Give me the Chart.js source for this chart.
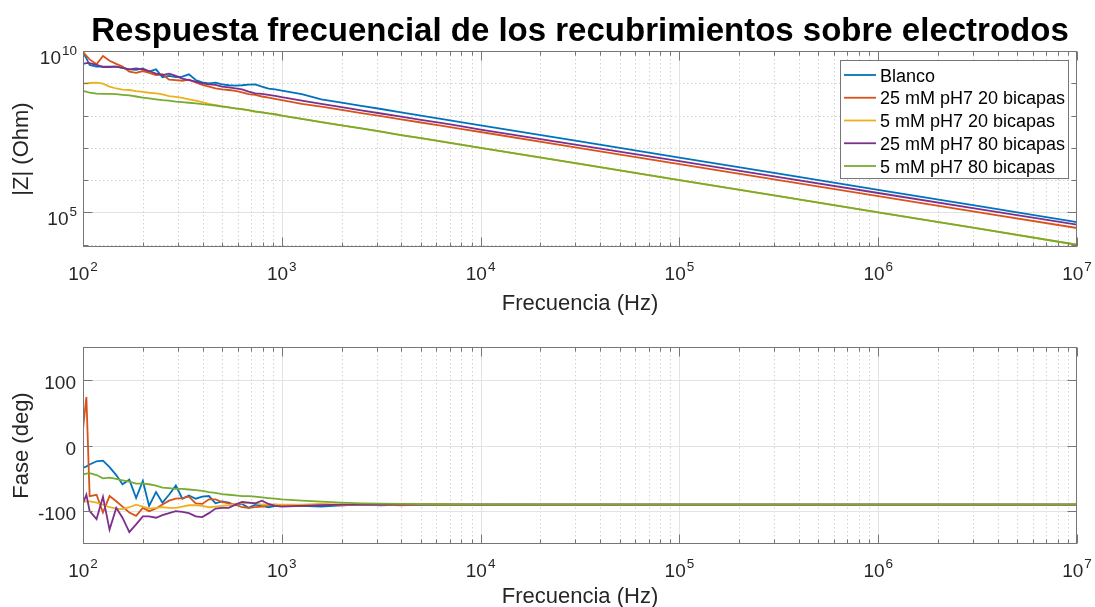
<!DOCTYPE html>
<html>
<head>
<meta charset="utf-8">
<script src="https://cdn.jsdelivr.net/npm/chart.js@4"></script>
<style>
  html, body { margin: 0; padding: 0; background: #ffffff; }
  #wrap { position: relative; width: 1095px; height: 607px; }
  #wrap canvas { position: absolute; left: 0; top: 0; }
</style>
</head>
<body>
<div id="wrap">
  <canvas id="mag" width="1095" height="607"></canvas>
  <canvas id="phase" width="1095" height="607"></canvas>
</div>
<script>
// ---- data -------------------------------------------------------------
const TITLE = 'Respuesta frecuencial de los recubrimientos sobre electrodos';
const X_LABEL = 'Frecuencia (Hz)';
const MAG_LABEL = '|Z| (Ohm)';
const PHASE_LABEL = 'Fase (deg)';

const SERIES_NAMES = ['Blanco', '25 mM pH7 20 bicapas', '5 mM pH7 20 bicapas', '25 mM pH7 80 bicapas', '5 mM pH7 80 bicapas'];
const SERIES_COLORS = ['#0072BD', '#D95319', '#EDB120', '#7E2F8E', '#77AC30'];

// frequency sweep (Hz)
const FREQ = [100, 104, 108, 117, 126, 136, 147, 158, 171, 185,
  200, 215, 233, 251, 271, 293, 316, 341, 369, 398,
  430, 464, 501, 541, 584, 631, 681, 736, 794, 858,
  926, 1000,
  1260, 1580, 2000, 2510, 3160, 3980, 5010, 6310, 7940, 1e4,
  3.16e4, 1e5, 3.16e5, 1e6, 3.16e6, 1e7];

// |Z| in ohm
const MAG_BLANCO = [8.9e9, 5.9e9, 3.7e9, 3.3e9, 3.3e9, 3.3e9, 3.3e9, 3.0e9, 2.7e9, 2.6e9,
  2.9e9, 2.3e9, 2.7e9, 1.55e9, 1.7e9, 1.55e9, 1.6e9, 1.9e9, 1.26e9, 1.07e9,
  1.0e9, 1.05e9, 9.3e8, 8.7e8, 8.5e8, 8.7e8, 9.1e8, 9.3e8, 7.9e8, 6.8e8,
  6.5e8, 5.9e8,
  4.6e8, 3.2e8, 2.5e8, 2.0e8, 1.6e8, 1.26e8, 1.0e8, 7.9e7, 6.3e7, 5.0e7,
  1.6e7, 5.0e6, 1.6e6, 5.0e5, 1.6e5, 5.0e4];
const MAG_25_20 = [9.5e9, 7.1e9, 5.5e9, 3.9e9, 7.0e9, 5.0e9, 4.0e9, 3.3e9, 2.3e9, 2.1e9,
  2.4e9, 2.1e9, 1.8e9, 1.9e9, 1.3e9, 1.26e9, 1.2e9, 1.3e9, 1.07e9, 8.9e8,
  7.9e8, 7.0e8, 6.5e8, 6.2e8, 5.8e8, 5.2e8, 4.6e8, 4.4e8, 3.9e8, 3.6e8,
  3.3e8, 3.0e8,
  2.3e8, 1.9e8, 1.51e8, 1.2e8, 9.6e7, 7.6e7, 6.1e7, 4.85e7, 3.9e7, 3.1e7,
  9.8e6, 3.15e6, 1.0e6, 3.2e5, 1.03e5, 3.3e4];
const MAG_5_20 = [1.0e9, 1.0e9, 1.02e9, 1.05e9, 9.8e8, 7.9e8, 6.9e8, 6.4e8, 6.2e8, 5.75e8,
  5.4e8, 5.1e8, 4.9e8, 4.5e8, 4.0e8, 3.8e8, 3.55e8, 3.2e8, 2.9e8, 2.6e8,
  2.3e8, 2.1e8, 1.95e8, 1.8e8, 1.66e8, 1.55e8, 1.46e8, 1.3e8, 1.26e8, 1.17e8,
  1.1e8, 1.0e8,
  7.9e7, 6.3e7, 5.0e7, 4.0e7, 3.2e7, 2.5e7, 2.0e7, 1.6e7, 1.26e7, 1.0e7,
  3.2e6, 1.0e6, 3.2e5, 1.0e5, 3.2e4, 1.0e4];
const MAG_25_80 = [4.0e9, 4.2e9, 4.2e9, 3.7e9, 3.2e9, 3.2e9, 3.3e9, 3.0e9, 2.7e9, 2.9e9,
  2.7e9, 2.4e9, 2.0e9, 1.8e9, 2.0e9, 1.7e9, 1.4e9, 1.26e9, 1.13e9, 1.0e9,
  9.3e8, 8.9e8, 7.9e8, 7.5e8, 7.0e8, 6.5e8, 5.5e8, 4.9e8, 4.7e8, 4.4e8,
  4.1e8, 3.7e8,
  2.9e8, 2.3e8, 1.82e8, 1.46e8, 1.16e8, 9.3e7, 7.4e7, 5.9e7, 4.7e7, 3.7e7,
  1.2e7, 3.9e6, 1.25e6, 4.0e5, 1.3e5, 4.2e4];
const MAG_5_80 = [5.75e8, 5.5e8, 5.1e8, 4.8e8, 4.7e8, 4.7e8, 4.6e8, 4.4e8, 4.2e8, 3.9e8,
  3.6e8, 3.4e8, 3.2e8, 3.0e8, 2.9e8, 2.7e8, 2.6e8, 2.5e8, 2.4e8, 2.25e8,
  2.15e8, 2.05e8, 1.9e8, 1.8e8, 1.66e8, 1.58e8, 1.48e8, 1.35e8, 1.26e8, 1.17e8,
  1.1e8, 1.0e8,
  7.9e7, 6.3e7, 5.0e7, 4.0e7, 3.2e7, 2.5e7, 2.0e7, 1.6e7, 1.26e7, 1.0e7,
  3.2e6, 1.0e6, 3.2e5, 1.0e5, 3.2e4, 1.0e4];

// phase in degrees
const PH_BLANCO = [-34, -32, -29, -24, -23, -33, -45, -59, -52, -80,
  -54, -92, -71, -87, -75, -61, -81, -76, -81, -78,
  -77, -88, -85, -87, -91, -89, -95, -90, -92, -94,
  -92, -91,
  -92, -93, -91, -90, -91, -90, -90, -90, -90, -90,
  -90, -90, -90, -90, -90, -90];
const PH_25_20 = [25, 74, -77, -75, -102, -77, -85, -93, -102, -107,
  -95, -100, -96, -90, -84, -81, -80, -78, -88, -89,
  -82, -82, -86, -88, -90, -94, -95, -94, -93, -91,
  -90, -91,
  -91, -90, -91, -90, -90, -91, -90, -90, -90, -90,
  -90, -90, -90, -90, -90, -90];
const PH_5_20 = [-86, -85, -85, -87, -90, -94, -96, -97, -94, -90,
  -93, -96, -95, -94, -95, -95, -93, -91, -91, -92,
  -94, -93, -92, -91, -89, -88, -87, -88, -90, -90,
  -90, -90,
  -90, -89, -90, -90, -90, -90, -90, -90, -90, -90,
  -90, -90, -90, -90, -90, -90];
const PH_25_80 = [-88, -75, -100, -112, -78, -128, -95, -110, -132, -120,
  -108, -108, -110, -106, -103, -100, -101, -103, -108, -109,
  -103, -96, -95, -95, -90, -86, -87, -88, -84, -89,
  -92, -93,
  -92, -91, -90, -90, -90, -90, -90, -90, -90, -90,
  -90, -90, -90, -90, -90, -90];
const PH_5_80 = [-44, -43, -42, -45, -50, -49, -51, -53, -55, -58,
  -58, -59, -61, -64, -65, -66, -66, -67, -68, -69,
  -71, -72, -74, -75, -76, -77, -77, -78, -79, -80,
  -81, -82,
  -84, -85.5, -87, -88, -88.5, -89, -89.3, -89.5, -89.7, -89.8,
  -90, -90, -90, -90, -90, -90];

// axis ticks
const X_DECADES = [2, 3, 4, 5, 6, 7];           // labelled 10^n
const MAG_LABEL_DECADES = [5, 10];              // labelled 10^n on |Z|
const MAG_ALL_DECADES = [4, 5, 6, 7, 8, 9, 10];
const PHASE_TICKS = [-100, 0, 100];

// ---- drawing helpers ---------------------------------------------------
const FAMILY = '"Liberation Sans", Arial, Helvetica, sans-serif';
const TICK_FONT = '19px ' + FAMILY;
const EXP_FONT = '13.5px ' + FAMILY;
const AXIS_FONT = '22px ' + FAMILY;
const LEGEND_FONT = '18px ' + FAMILY;
const TITLE_FONT = 'bold 33px ' + FAMILY;
const TEXT_COLOR = '#262626';
const BOX_COLOR = '#767676';

function drawPower(ctx, exp, x, baseline, align) {
  ctx.font = TICK_FONT;
  const w1 = ctx.measureText('10').width;
  ctx.font = EXP_FONT;
  const w2 = ctx.measureText(String(exp)).width;
  const total = w1 + 1 + w2;
  const left = align === 'center' ? x - total / 2 : x - total;
  ctx.textAlign = 'left';
  ctx.textBaseline = 'alphabetic';
  ctx.font = TICK_FONT;
  ctx.fillText('10', left, baseline);
  ctx.font = EXP_FONT;
  ctx.fillText(String(exp), left + w1 + 1, baseline - 9);
}

function minorLogValues(fromExp, toExp) {
  const out = [];
  for (let e = fromExp; e < toExp; e++) {
    for (let m = 2; m <= 9; m++) out.push(m * Math.pow(10, e));
  }
  return out;
}

function vLine(ctx, px, y0, y1) {
  ctx.beginPath(); ctx.moveTo(px, y0); ctx.lineTo(px, y1); ctx.stroke();
}
function hLine(ctx, py, x0, x1) {
  ctx.beginPath(); ctx.moveTo(x0, py); ctx.lineTo(x1, py); ctx.stroke();
}

// MATLAB-style axes: boxed, inward ticks, solid major and dotted minor grid
function makeAxesPlugin(cfg) {
  return {
    id: 'axes_' + cfg.name,
    beforeDatasetsDraw(chart) {
      const { ctx, chartArea: a, scales } = chart;
      const xs = scales.x, ys = scales.y;
      ctx.save();
      ctx.beginPath(); ctx.rect(a.left, a.top, a.right - a.left, a.bottom - a.top); ctx.clip();
      ctx.lineWidth = 1;
      // minor grid
      ctx.strokeStyle = '#d2d2d2';
      ctx.setLineDash([1.5, 2.5]);
      cfg.xMinor.forEach(v => vLine(ctx, Math.round(xs.getPixelForValue(v)) + 0.5, a.top, a.bottom));
      cfg.yMinor.forEach(v => hLine(ctx, Math.round(ys.getPixelForValue(v)) + 0.5, a.left, a.right));
      // major grid
      ctx.setLineDash([]);
      ctx.strokeStyle = '#e3e3e3';
      cfg.xMajor.forEach(v => vLine(ctx, Math.round(xs.getPixelForValue(v)) + 0.5, a.top, a.bottom));
      cfg.yMajor.forEach(v => hLine(ctx, Math.round(ys.getPixelForValue(v)) + 0.5, a.left, a.right));
      ctx.restore();
    },
    afterDatasetsDraw(chart) {
      const { ctx, chartArea: a, scales } = chart;
      const xs = scales.x, ys = scales.y;
      const L = Math.round(a.left) + 0.5, R = Math.round(a.right) - 0.5;
      const T = Math.round(a.top) + 0.5, B = Math.round(a.bottom) - 0.5;
      ctx.save();
      ctx.strokeStyle = BOX_COLOR;
      ctx.lineWidth = 1;
      ctx.strokeRect(L, T, R - L, B - T);
      // ticks
      const xt = (v, len) => {
        const px = Math.round(xs.getPixelForValue(v)) + 0.5;
        vLine(ctx, px, B, B - len); vLine(ctx, px, T, T + len);
      };
      const yt = (v, len) => {
        const py = Math.round(ys.getPixelForValue(v)) + 0.5;
        hLine(ctx, py, L, L + len); hLine(ctx, py, R, R - len);
      };
      cfg.xMinor.forEach(v => xt(v, 4));
      cfg.xMajor.forEach(v => xt(v, 9));
      cfg.yMinor.forEach(v => yt(v, 5));
      cfg.yMajor.forEach(v => yt(v, 9));

      // tick labels
      ctx.fillStyle = TEXT_COLOR;
      X_DECADES.forEach(e => drawPower(ctx, e, xs.getPixelForValue(Math.pow(10, e)), a.bottom + 33, 'center'));
      if (cfg.yLog) {
        cfg.yLabelExps.forEach(e => drawPower(ctx, e, a.left - 6, ys.getPixelForValue(Math.pow(10, e)) + 12.5, 'right'));
      } else {
        ctx.font = TICK_FONT; ctx.textAlign = 'right'; ctx.textBaseline = 'alphabetic';
        cfg.yMajor.forEach(v => ctx.fillText(String(v), a.left - 7, ys.getPixelForValue(v) + 9));
      }

      // axis titles
      ctx.font = AXIS_FONT;
      ctx.textAlign = 'center'; ctx.textBaseline = 'alphabetic';
      ctx.fillText(X_LABEL, (a.left + a.right) / 2, a.bottom + cfg.xLabelGap);
      ctx.save();
      ctx.translate(28, (a.top + a.bottom) / 2);
      ctx.rotate(-Math.PI / 2);
      ctx.fillText(cfg.yLabel, 0, 0);
      ctx.restore();

      // title
      if (cfg.title) {
        ctx.font = TITLE_FONT;
        ctx.fillStyle = '#000000';
        ctx.textAlign = 'center';
        ctx.fillText(cfg.title, (a.left + a.right) / 2, 41);
      }

      // legend
      if (cfg.legend) {
        const lx = 840, ly = 60, lw = 228, lh = 118, row = 22.75;
        ctx.fillStyle = '#ffffff';
        ctx.fillRect(lx, ly, lw, lh);
        ctx.strokeStyle = BOX_COLOR;
        ctx.strokeRect(lx + 0.5, ly + 0.5, lw, lh);
        ctx.font = LEGEND_FONT;
        ctx.textAlign = 'left';
        chart.data.datasets.forEach((ds, i) => {
          const cy = ly + 15 + i * row;
          ctx.strokeStyle = ds.borderColor;
          ctx.lineWidth = 1.8;
          hLine(ctx, cy, lx + 4, lx + 36);
          ctx.fillStyle = '#000000';
          ctx.fillText(ds.label, lx + 40, cy + 6.5);
        });
      }
      ctx.restore();
    }
  };
}

// later series are painted over earlier ones
function buildDatasets(seriesList) {
  return seriesList.map((vals, i) => ({
    label: SERIES_NAMES[i],
    data: FREQ.map((f, k) => ({ x: f, y: vals[k] })),
    borderColor: SERIES_COLORS[i],
    backgroundColor: SERIES_COLORS[i],
    borderWidth: 1.8,
    pointRadius: 0,
    tension: 0,
    fill: false,
    order: seriesList.length - i
  }));
}

const commonOptions = (yScale, padding) => ({
  responsive: false,
  animation: false,
  devicePixelRatio: 1,
  layout: { padding },
  plugins: { legend: { display: false }, tooltip: { enabled: false }, title: { display: false } },
  scales: {
    x: { type: 'logarithmic', min: 100, max: 1e7, display: false },
    y: Object.assign({ display: false }, yScale)
  },
  events: []
});

// ---- |Z| chart ---------------------------------------------------------
new Chart(document.getElementById('mag'), {
  type: 'line',
  data: { datasets: buildDatasets([MAG_BLANCO, MAG_25_20, MAG_5_20, MAG_25_80, MAG_5_80]) },
  options: commonOptions({ type: 'logarithmic', min: Math.pow(10, 3.93), max: 1e10 },
    { left: 83, right: 18, top: 51, bottom: 360 }),
  plugins: [makeAxesPlugin({
    name: 'mag',
    xMajor: X_DECADES.map(e => Math.pow(10, e)),
    xMinor: minorLogValues(2, 7),
    yMajor: MAG_LABEL_DECADES.map(e => Math.pow(10, e)),
    yMinor: MAG_ALL_DECADES.filter(e => MAG_LABEL_DECADES.indexOf(e) < 0).map(e => Math.pow(10, e)),
    yLog: true,
    yLabelExps: MAG_LABEL_DECADES,
    yLabel: MAG_LABEL,
    xLabelGap: 63,
    title: TITLE,
    legend: true
  })]
});

// ---- phase chart -------------------------------------------------------
new Chart(document.getElementById('phase'), {
  type: 'line',
  data: { datasets: buildDatasets([PH_BLANCO, PH_25_20, PH_5_20, PH_25_80, PH_5_80]) },
  options: commonOptions({ type: 'linear', min: -150, max: 150 },
    { left: 83, right: 18, top: 347, bottom: 63 }),
  plugins: [makeAxesPlugin({
    name: 'phase',
    xMajor: X_DECADES.map(e => Math.pow(10, e)),
    xMinor: minorLogValues(2, 7),
    yMajor: PHASE_TICKS,
    yMinor: [],
    yLog: false,
    yLabel: PHASE_LABEL,
    xLabelGap: 59,
    title: null,
    legend: false
  })]
});
</script>
</body>
</html>
